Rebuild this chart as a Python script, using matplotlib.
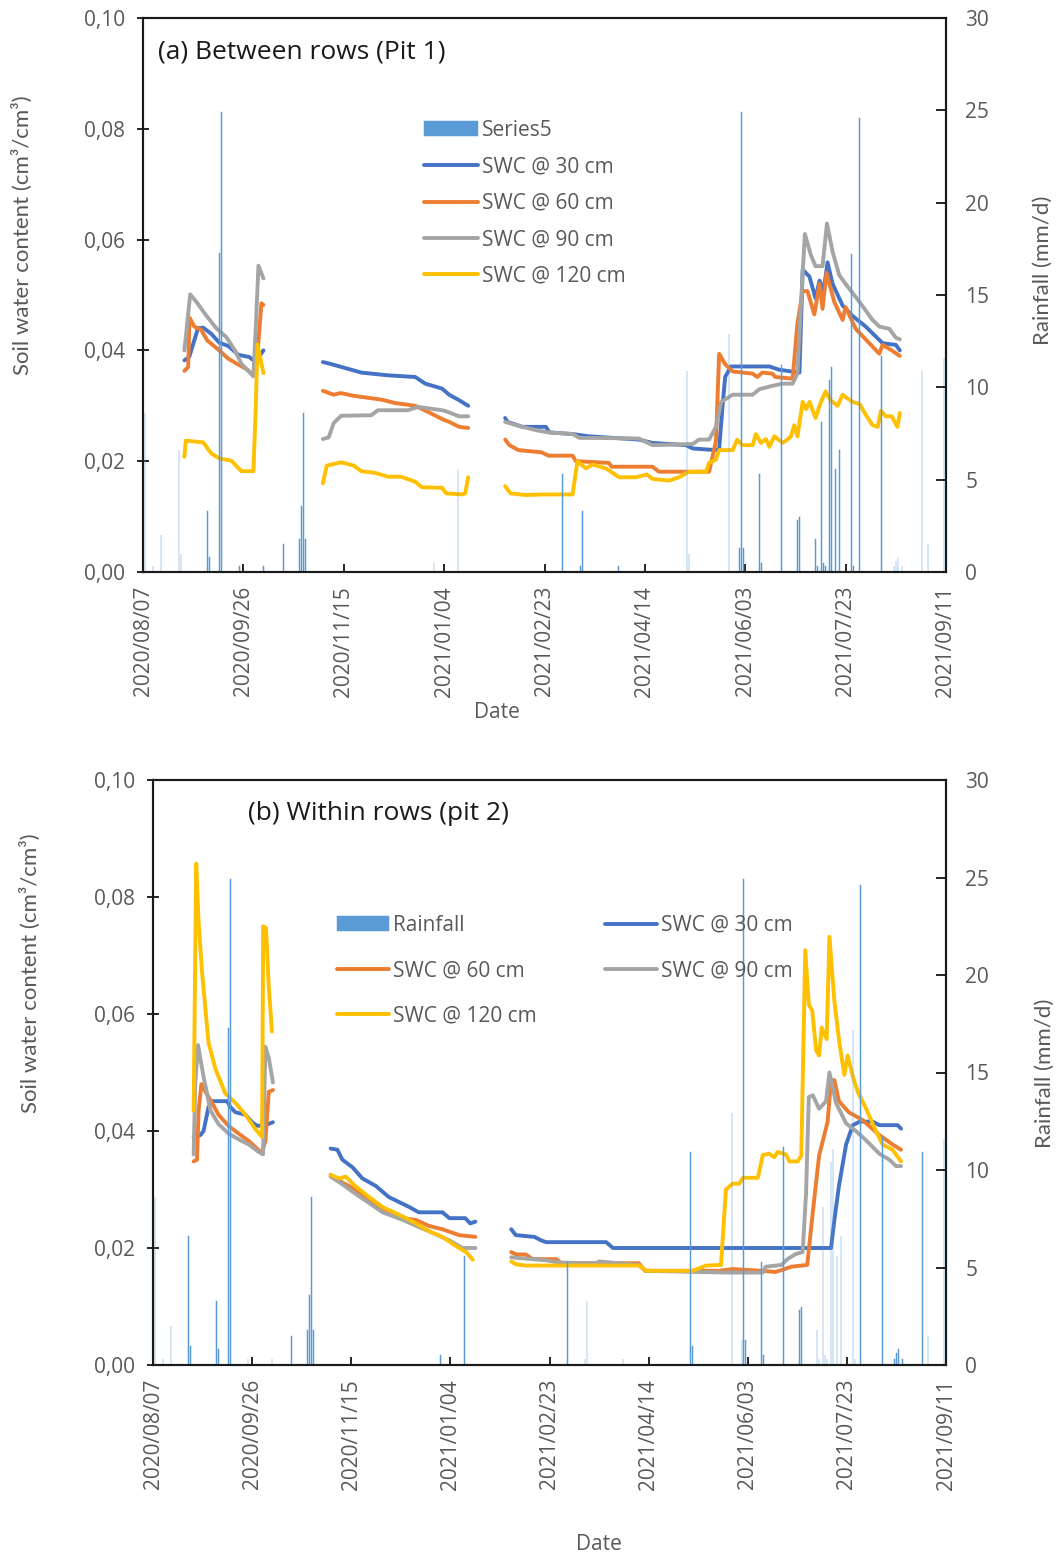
import numpy as np
import pandas as pd
import matplotlib
matplotlib.use('Agg')
import matplotlib.pyplot as plt

plt.rcParams['font.family'] = ['Open Sans', 'DejaVu Sans']

nan = np.nan

# Start date of the record; x values are days after this date
start_date = pd.Timestamp('2020-08-07')
tick_days = [0, 50, 100, 150, 200, 250, 300, 350, 400]

# Daily rainfall (mm/d), same series in both panels
rain_day = [0, 1, 5, 9, 18, 19, 32, 33, 38, 39,
            48, 60, 70, 78, 79, 80, 81, 145, 157, 209,
            218, 219, 237, 271, 272, 292, 297, 298, 299, 307,
            308, 318, 326, 327, 335, 336, 338, 339, 340, 342,
            343, 345, 347, 353, 354, 357, 368, 374, 375, 376,
            378, 388, 391, 399]
rain_mm = [25.0, 8.6, 0.3, 2.0, 6.6, 1.0, 3.3, 0.8, 17.3, 24.9,
           0.3, 0.3, 1.5, 1.8, 3.6, 8.6, 1.8, 0.5, 5.6, 5.3,
           0.3, 3.3, 0.3, 10.9, 1.0, 12.9, 1.3, 24.9, 1.3, 5.3,
           0.5, 11.2, 2.8, 3.0, 1.8, 0.3, 8.1, 0.5, 0.3, 10.4,
           11.1, 5.6, 6.6, 17.2, 0.3, 24.6, 11.7, 0.3, 0.6, 0.8,
           0.3, 10.9, 1.5, 11.6]

# ---- (a) Between rows (Pit 1) ----
a30_day = [20.6, 23, 27.4, 30, 34, 38, 42.5, 47.5, 53, 56, 60, nan,
           89.6, 93, 97, 108.7, 122, 135.6, 140.6, 149, 152.5, 157.5, 162, nan,
           180.4, 181.5, 189, 200.7, 202.4, 214, 222, 247, 253.8, 270.4,
           273.8, 285.4, 287, 288.7, 290, 292.9, 312, 317, 327, 328.6,
           332, 335, 337, 339, 341, 343.5, 348.5, 353.5, 360, 368.4, 375, 377]
a30 = [0.0382, 0.0388, 0.044, 0.0441, 0.043, 0.0414, 0.0408, 0.0392, 0.0388, 0.0379, 0.040, nan,
       0.0379, 0.0376, 0.0372, 0.036, 0.0355, 0.0352, 0.034, 0.0331, 0.032, 0.031, 0.030, nan,
       0.0278, 0.0271, 0.0262, 0.0262, 0.0252, 0.0249, 0.0245, 0.0239, 0.0233, 0.0229,
       0.0223, 0.022, 0.0222, 0.030, 0.0352, 0.0371, 0.0371, 0.0365, 0.036, 0.0546,
       0.0533, 0.0494, 0.0526, 0.0507, 0.0559, 0.052, 0.0481, 0.0462, 0.0443, 0.0413, 0.041, 0.040]

a60_day = [20.6, 22.5, 23.2, 25.5, 29, 32, 38, 42.5, 46.7, 51.7, 55, 56.5, 59, 60, nan,
           89.6, 95, 98.5, 105, 119, 125.5, 135.6, 142, 149, 152.5, 157.5, 162, nan,
           180.4, 182.5, 187, 198.5, 202, 214, 215.6, 232, 233.5, 253.8,
           257, 282, 285.4, 287, 290, 293.7, 303.7, 306, 308.5, 313.5,
           315, 323.6, 326, 328.6, 331, 334.4, 337, 338.5, 340.5, 344.3,
           348.5, 350, 355, 361.8, 366.8, 368.4, 373, 377]
a60 = [0.0363, 0.037, 0.0459, 0.0443, 0.0437, 0.0418, 0.040, 0.0385, 0.0376, 0.0366, 0.0356, 0.037, 0.0485, 0.0482, nan,
       0.0327, 0.032, 0.0323, 0.0318, 0.0311, 0.0305, 0.030, 0.0289, 0.0276, 0.0271, 0.0262, 0.026, nan,
       0.0239, 0.0229, 0.022, 0.0216, 0.021, 0.021, 0.020, 0.0197, 0.019, 0.019,
       0.0181, 0.0181, 0.0236, 0.0394, 0.0375, 0.0362, 0.0358, 0.0352, 0.036, 0.0358,
       0.0352, 0.0349, 0.0449, 0.0507, 0.0507, 0.0465, 0.052, 0.0475, 0.054, 0.0488,
       0.0455, 0.0478, 0.0439, 0.0413, 0.0394, 0.041, 0.040, 0.039]

a90_day = [20.6, 21.5, 23.5, 26.5, 31.5, 36.5, 41.5, 45.8, 49, 55, 56.3, 57.5, 60, nan,
           89.6, 92.5, 95, 98.7, 113.8, 117, 132, 137, 149, 151, 157.5, 162, nan,
           180.4, 189, 197, 202, 214, 217.5, 226, 247, 253.8, 273.8,
           277, 282, 285.4, 288, 293.7, 303.7, 307, 313.5, 318.6, 323.6,
           326, 327.7, 329.7, 332.7, 335, 338.5, 340.7, 343.5, 346.8, 350,
           356.8, 363.4, 366.8, 371.7, 375, 377]
a90 = [0.040, 0.043, 0.0501, 0.0488, 0.0463, 0.044, 0.0424, 0.040, 0.0376, 0.0353, 0.045, 0.0553, 0.053, nan,
       0.024, 0.0243, 0.0269, 0.0282, 0.0283, 0.0292, 0.0292, 0.0298, 0.0292, 0.029, 0.0281, 0.0281, nan,
       0.0271, 0.0262, 0.0255, 0.0252, 0.0249, 0.0242, 0.0242, 0.0241, 0.0229, 0.0231,
       0.0239, 0.0239, 0.0262, 0.0307, 0.032, 0.032, 0.033, 0.0336, 0.034, 0.034,
       0.0358, 0.0481, 0.061, 0.0572, 0.0552, 0.0552, 0.0629, 0.0578, 0.0536, 0.052,
       0.0488, 0.0455, 0.0443, 0.0439, 0.0423, 0.042]

a120_day = [20.6, 21.3, 30, 34, 38, 44, 49, 55, 56.2, 57, 60, nan,
            89.6, 91.5, 98.7, 105, 108.7, 115.5, 122, 128.5, 135.6, 139, 149, 151, 159, 160.5, 162, nan,
            180.4, 183, 190.5, 200, 214, 214.8, 216.4, 220.6, 224, 230.6,
            237.2, 245.5, 251, 253.8, 262, 267, 272, 280.4, 282, 285.4,
            287, 293.7, 296, 298.5, 303.7, 305.3, 307.8, 310.3, 312, 314.5,
            318.6, 321, 322.8, 324.4, 326, 328.6, 330.3, 332, 335, 337.7,
            340, 342.5, 346, 348.5, 351, 353.5, 357, 360, 363.4, 366,
            367.6, 370, 373, 375.8, 377]
a120 = [0.0208, 0.0237, 0.0234, 0.0214, 0.0205, 0.0201, 0.0182, 0.0182, 0.030, 0.0411, 0.0359, nan,
        0.016, 0.0192, 0.0198, 0.0192, 0.0182, 0.0179, 0.0172, 0.0172, 0.0163, 0.0153, 0.0152, 0.0142, 0.014, 0.0142, 0.0171, nan,
        0.0155, 0.0142, 0.0139, 0.014, 0.014, 0.016, 0.020, 0.0187, 0.0194, 0.0187,
        0.0171, 0.0171, 0.0176, 0.0168, 0.0165, 0.0171, 0.0181, 0.0181, 0.0197, 0.0203,
        0.022, 0.022, 0.0239, 0.0229, 0.0229, 0.0249, 0.0233, 0.024, 0.0226, 0.0245,
        0.0233, 0.0239, 0.0245, 0.0265, 0.0245, 0.0307, 0.0294, 0.0307, 0.0278, 0.0307,
        0.0326, 0.031, 0.030, 0.032, 0.0313, 0.0307, 0.0303, 0.0284, 0.0265, 0.0262,
        0.0291, 0.0281, 0.0281, 0.0262, 0.0287]

# ---- (b) Within rows (pit 2) ----
b30_day = [20.5, 23.9, 25.5, 28, 29.8, 37.4, 39, 41.6, 46.6, 50, 52.5, 56, 60.5, nan,
           89.6, 93, 95.5, 100.6, 105.6, 112.4, 119, 129.3, 134, 146, 149.5, 157.5, 160, 162.6, nan,
           180.7, 183, 192.4, 195.8, 198.3, 228.6, 232, 342, 343.7, 346,
           349.6, 353, 356.5, 363, 366.4, 375.6, 377.3]
b30 = [0.039, 0.0393, 0.040, 0.0441, 0.0451, 0.0451, 0.0441, 0.0432, 0.0428, 0.0415, 0.0409, 0.0409, 0.0415, nan,
       0.037, 0.0368, 0.0351, 0.0338, 0.0319, 0.0306, 0.0287, 0.027, 0.0261, 0.0261, 0.0251, 0.0251, 0.0242, 0.0245, nan,
       0.0232, 0.0222, 0.0219, 0.0213, 0.021, 0.021, 0.020, 0.020, 0.0248, 0.0306,
       0.0377, 0.041, 0.0416, 0.0416, 0.041, 0.041, 0.0404]

b60_day = [20.5, 22.2, 23, 24.4, 26.5, 29.8, 33, 38, 43, 48.3, 53.4, 55, 56.7, 58.4, 60.5, nan,
           89.6, 95.5, 102, 109, 115.8, 126, 132.6, 139, 146, 154.5, 162.6, nan,
           180.7, 183, 188, 191.4, 203.4, 206, 245, 248.3, 285.7, 292.4,
           307.5, 314, 318.6, 321.9, 330, 332.8, 336, 340.3, 342, 343.7,
           346, 351, 357.8, 366.4, 373, 377.3]
b60 = [0.0348, 0.0351, 0.0435, 0.048, 0.0467, 0.0448, 0.0428, 0.0409, 0.0396, 0.0383, 0.0367, 0.0364, 0.0383, 0.0467, 0.047, nan,
       0.0325, 0.0312, 0.030, 0.028, 0.0267, 0.0251, 0.0248, 0.0238, 0.0232, 0.0222, 0.0219, nan,
       0.0193, 0.0189, 0.0189, 0.0181, 0.0181, 0.0174, 0.0174, 0.0161, 0.0161, 0.0164,
       0.0161, 0.0159, 0.0164, 0.0168, 0.0171, 0.0261, 0.0358, 0.0416, 0.0487, 0.0487,
       0.0451, 0.0432, 0.0419, 0.0393, 0.0377, 0.0368]

b90_day = [20.5, 21.3, 22.7, 25.5, 29, 33, 38, 43, 48.3, 53.4, 55.5, 56.7, 58.4, 60.5, nan,
           89.6, 95.5, 102, 109, 115.8, 126, 132.6, 139, 149.5, 156, 162.6, nan,
           180.7, 198.3, 205, 223.5, 225, 245, 248.3, 289, 307.5, 309,
           317, 320, 324.4, 327.7, 329.4, 330.8, 332.8, 336, 339.5, 341.2,
           344.5, 349.6, 354.5, 359.7, 366.4, 371.4, 374.8, 377.3]
b90 = [0.036, 0.048, 0.0547, 0.0493, 0.0435, 0.0412, 0.0396, 0.0386, 0.0377, 0.0364, 0.036, 0.0544, 0.0525, 0.0483, nan,
       0.0322, 0.0309, 0.0293, 0.0277, 0.0261, 0.0248, 0.0238, 0.0229, 0.0213, 0.020, 0.020, nan,
       0.0184, 0.0179, 0.0175, 0.0174, 0.0177, 0.0171, 0.0161, 0.0158, 0.0158, 0.0168,
       0.0171, 0.0181, 0.019, 0.0193, 0.0293, 0.0458, 0.0461, 0.0438, 0.0451, 0.050,
       0.0448, 0.0413, 0.040, 0.0384, 0.0361, 0.0351, 0.034, 0.034]

b120_day = [20.5, 21.8, 23, 24.7, 28, 31.5, 36.5, 41.6, 46.6, 51.7, 55, 55.6, 57, 58.4, 60, nan,
            89.6, 93.8, 97.2, 102, 109, 115.8, 126, 132.6, 139, 146, 153, 158, 161.3, nan,
            180.7, 183.2, 188, 245.4, 248.7, 272.3, 279, 286.5, 289, 292.4,
            295.8, 297.5, 303, 305.1, 307.6, 310.9, 313.4, 315, 319.3, 321,
            325.2, 327, 329, 330.8, 332.5, 334.5, 336, 337.3, 339.8, 341.2,
            343.7, 346.2, 348.7, 350.4, 353, 355.5, 359.7, 364.7, 368, 373, 377.3]
b120 = [0.0435, 0.0857, 0.0757, 0.0673, 0.0551, 0.0506, 0.0464, 0.0448, 0.0428, 0.0403, 0.039, 0.075, 0.0747, 0.0647, 0.057, nan,
        0.0325, 0.0319, 0.0322, 0.0306, 0.0287, 0.027, 0.0254, 0.0242, 0.0229, 0.0219, 0.0203, 0.0193, 0.018, nan,
        0.0177, 0.0172, 0.017, 0.017, 0.0161, 0.0161, 0.017, 0.0171, 0.030, 0.031,
        0.031, 0.032, 0.032, 0.032, 0.0359, 0.0361, 0.0355, 0.0364, 0.036, 0.0348,
        0.0348, 0.0358, 0.0709, 0.0616, 0.0606, 0.0538, 0.0529, 0.0577, 0.0557, 0.0732,
        0.0622, 0.0551, 0.0496, 0.0529, 0.0493, 0.0467, 0.0438, 0.040, 0.0377, 0.0368, 0.0348]

series_labels = ['SWC @ 30 cm', 'SWC @ 60 cm', 'SWC @ 90 cm', 'SWC @ 120 cm']
series_colors = ['#4472C4', '#ED7D31', '#A5A5A5', '#FFC000']
rain_color = '#5B9BD5'
grey_text = '#595959'

W, H = 1060, 1559
fig = plt.figure(figsize=(W / 100, H / 100), dpi=100)


def px_axes(left, top, right, bottom):
    return fig.add_axes([left / W, 1 - bottom / H, (right - left) / W, (bottom - top) / H])


def draw_panel(box, lines, title, title_xy, rain_label):
    ax = px_axes(*box)
    ax2 = ax.twinx()

    handles = []
    for (days, vals), lab, col in zip(lines, series_labels, series_colors):
        h, = ax.plot(days, vals, color=col, lw=2.8, label=lab,
                     solid_capstyle='round', solid_joinstyle='round')
        handles.append(h)

    # thin daily rainfall bars on the secondary axis
    bars = ax2.bar(rain_day, rain_mm, width=0.3, color=rain_color,
                   edgecolor=rain_color, linewidth=0.35, label=rain_label)

    ax.set_xlim(0, 400)
    ax.set_ylim(0, 0.10)
    ax2.set_ylim(0, 30)

    ax.set_yticks(np.arange(0, 0.101, 0.02))
    ax.set_yticklabels([f'{v:.2f}'.replace('.', ',') for v in np.arange(0, 0.101, 0.02)])
    ax2.set_yticks(range(0, 31, 5))
    ax.set_xticks(tick_days)
    ax.set_xticklabels([(start_date + pd.Timedelta(days=d)).strftime('%Y/%m/%d') for d in tick_days],
                       rotation=90)

    ax.tick_params(axis='y', direction='inout', length=8, width=1.2, pad=9,
                   labelsize=15, labelcolor=grey_text)
    ax.tick_params(axis='x', direction='in', length=6, width=1.2, pad=10,
                   labelsize=15, labelcolor=grey_text)
    ax2.tick_params(axis='y', direction='in', length=7, width=1.2, pad=14,
                    labelsize=15, labelcolor=grey_text)

    for a in (ax, ax2):
        for sp in a.spines.values():
            sp.set_linewidth(1.5)
            sp.set_color('#1a1a1a')

    fig.text(title_xy[0] / W, 1 - title_xy[1] / H, title, fontsize=19,
             color='#1a1a1a', ha='left', va='center')
    return ax, ax2, bars, handles


# panel (a)
ax_a, ax_a2, bars_a, lines_a = draw_panel(
    (143, 18, 946, 572),
    [(a30_day, a30), (a60_day, a60), (a90_day, a90), (a120_day, a120)],
    '(a) Between rows (Pit 1)', (158, 52), 'Series5')
ax_a2.legend([bars_a] + lines_a, ['Series5'] + series_labels,
             loc='upper left', bbox_to_anchor=(424 / W, 1 - 120 / H), bbox_transform=fig.transFigure,
             frameon=False, fontsize=15, labelcolor=grey_text, handlelength=2.6,
             handletextpad=0.2, labelspacing=0.74, borderpad=0, borderaxespad=0)

# panel (b)
ax_b, ax_b2, bars_b, lines_b = draw_panel(
    (153, 780, 946, 1365),
    [(b30_day, b30), (b60_day, b60), (b90_day, b90), (b120_day, b120)],
    '(b) Within rows (pit 2)', (248, 813), 'Rainfall')
ax_b2.legend([bars_b, lines_b[1], lines_b[3], lines_b[0], lines_b[2]],
             ['Rainfall', series_labels[1], series_labels[3], series_labels[0], series_labels[2]],
             ncol=2, loc='upper left', bbox_to_anchor=(337 / W, 1 - 915 / H),
             bbox_transform=fig.transFigure, frameon=False, fontsize=15, labelcolor=grey_text,
             handlelength=2.5, handletextpad=0.2, labelspacing=1.16, columnspacing=3.28,
             borderpad=0, borderaxespad=0)

# axis titles
lab_font = dict(family=['Lato', 'DejaVu Sans'], fontsize=16, color=grey_text,
                rotation=90, ha='center', va='center')
fig.text(22 / W, 1 - 235 / H, 'Soil water content (cm³/cm³)', **lab_font)
fig.text(30 / W, 1 - 973 / H, 'Soil water content (cm³/cm³)', **lab_font)
fig.text(1043 / W, 1 - 270 / H, 'Rainfall (mm/d)', **lab_font)
fig.text(1045 / W, 1 - 1073 / H, 'Rainfall (mm/d)', **lab_font)
fig.text(497 / W, 1 - 712 / H, 'Date', fontsize=15, color=grey_text, ha='center', va='center')
fig.text(599 / W, 1 - 1545 / H, 'Date', fontsize=15, color=grey_text, ha='center', va='center')

fig.savefig('out.png', dpi=100)
